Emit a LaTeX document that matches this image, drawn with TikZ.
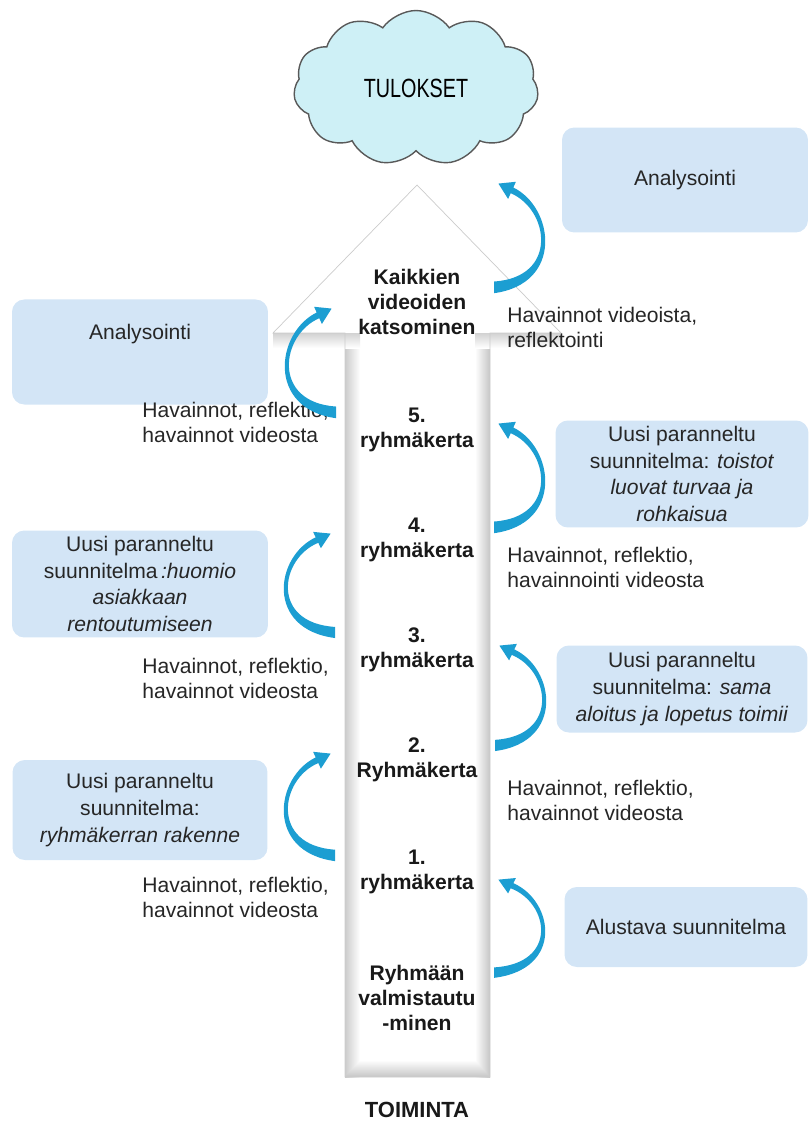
\documentclass[tikz,border=0pt]{standalone}
\usepackage{fontspec}
\setmainfont{Liberation Sans}
\newfontfamily\titlefont{Liberation Sans}[FakeStretch=0.75]
\usetikzlibrary{shapes.symbols}
\definecolor{cloudfill}{RGB}{206,240,246}
\definecolor{planfill}{RGB}{211,229,246}
\definecolor{loopblue}{RGB}{28,158,210}

\tikzset{
  pics/crescent/.style={code={
    \fill[loopblue] (0,3) .. controls (70,-6) and (60,-78) .. (19.3,-96.7)
      -- (21.9,-102.1) -- (4.4,-100.4) -- (14.1,-85.9) -- (16.7,-91.3)
      .. controls (55,-76) and (65,-12) .. (0,-8) -- cycle;
  }}
}

\begin{document}
\begin{tikzpicture}[x=0.02cm, y=-0.02cm,
    font=\fontsize{12}{14.2}\selectfont,
    plan/.style={rounded corners=7pt, fill=planfill, text=black!85,
                 align=center, inner sep=2pt,
                 font=\fontsize{12}{15.3}\selectfont},
    note/.style={anchor=west, align=left, inner sep=0pt, text=black!85},
    stage/.style={align=center, inner sep=0pt, text=black!90,
                  font=\fontsize{12}{14.2}\selectfont\bfseries},
  ]
  \useasboundingbox (0,0) rectangle (810,1129);
  % ---- big arrow ----
  \fill[white] (345,1077) -- (345,333) -- (273,333) -- (417,185)
    -- (561,333) -- (490,333) -- (490,1077) -- cycle;
  \shade[left color=gray!40, right color=white] (345,348) rectangle (360,1077);
  \shade[left color=white, right color=gray!45] (475,348) rectangle (490,1077);
  \shade[top color=gray!35, bottom color=white] (273,333) rectangle (360,348);
  \shade[top color=gray!35, bottom color=white] (475,333) rectangle (561,348);
  \shade[top color=white, bottom color=gray!45]
    (360,1060) -- (475,1060) -- (490,1077) -- (345,1077) -- cycle;
  \draw[gray!40] (345,1077) -- (345,333) -- (273,333) -- (417,185)
    -- (561,333) -- (490,333) -- (490,1077) -- cycle;
  % ---- cloud ----
  \node[cloud, cloud puffs=11, cloud puff arc=110, aspect=1.55,
        fill=cloudfill, draw=black!65, line width=0.8pt,
        minimum width=4.9cm, minimum height=3.1cm] (tulokset) at (416,88)
        {\titlefont\fontsize{15}{18}\selectfont TULOKSET};
  % ---- stages in the arrow ----
  \node[stage] (kaikki) at (417,302) {Kaikkien\\videoiden\\katsominen};
  \node[stage] (k5) at (417,430) {5.\\ryhmäkerta};
  \node[stage] (k4) at (417,540) {4.\\ryhmäkerta};
  \node[stage] (k3) at (417,650) {3.\\ryhmäkerta};
  \node[stage] (k2) at (417,760) {2.\\Ryhmäkerta};
  \node[stage] (k1) at (417,872) {1.\\ryhmäkerta};
  \node[stage] (valm) at (417,998) {Ryhmään\\valmistautu\\-minen};
  \node[stage, font=\fontsize{12.5}{15}\selectfont\bfseries] (toiminta)
    at (417,1110) {TOIMINTA};
  % ---- plans ----
  \node[plan, minimum width=4.92cm, minimum height=2.1cm] (an2) at (685,180)
    {Analysointi};
  \node[plan, anchor=base, minimum width=5.12cm, text height=0.72cm,
        text depth=1.24cm] (an1) at (140,339) {Analysointi};
  \node[plan, minimum width=5.06cm, minimum height=2.14cm] (p4) at (682,474)
    {Uusi paranneltu\\suunnitelma: \textit{toistot}\\\textit{luovat turvaa ja}\\\textit{rohkaisua}};
  \node[plan, minimum width=5.12cm, minimum height=2.14cm] (p3) at (140,584)
    {Uusi paranneltu\\suunnitelma\,\textit{:huomio}\\\textit{asiakkaan}\\\textit{rentoutumiseen}};
  \node[plan, minimum width=5.02cm, minimum height=1.74cm] (p2) at (682,689)
    {Uusi paranneltu\\suunnitelma: \textit{sama}\\\textit{aloitus ja lopetus toimii}};
  \node[plan, minimum width=5.1cm, minimum height=2.0cm] (p1) at (140,810)
    {Uusi paranneltu\\suunnitelma:\\\textit{ryhmäkerran rakenne}};
  \node[plan, minimum width=4.86cm, minimum height=1.6cm] (p0) at (686,927)
    {Alustava suunnitelma};
  % ---- observations ----
  \node[note] (h6) at (507,327) {Havainnot videoista,\\reflektointi};
  \node[note] (h5) at (142,422) {Havainnot, reflektio,\\havainnot videosta};
  \node[note] (h4) at (507,567) {Havainnot, reflektio,\\havainnointi videosta};
  \node[note] (h3) at (142,678) {Havainnot, reflektio,\\havainnot videosta};
  \node[note] (h2) at (507,800) {Havainnot, reflektio,\\havainnot videosta};
  \node[note] (h1) at (142,897) {Havainnot, reflektio,\\havainnot videosta};
  % ---- loops ----
  \pic[yscale=1.06] at (494,290) {crescent};
  \pic[yscale=1.06] at (494,530) {crescent};
  \pic[yscale=1.02] at (495,748) {crescent};
  \pic[yscale=0.95] at (494,975) {crescent};
  \pic[xscale=-1, yscale=1.06] at (336,415) {crescent};
  \pic[xscale=-1, yscale=1.01] at (335,635) {crescent};
  \pic[xscale=-1, yscale=1.04] at (335,858) {crescent};
\end{tikzpicture}
\end{document}
